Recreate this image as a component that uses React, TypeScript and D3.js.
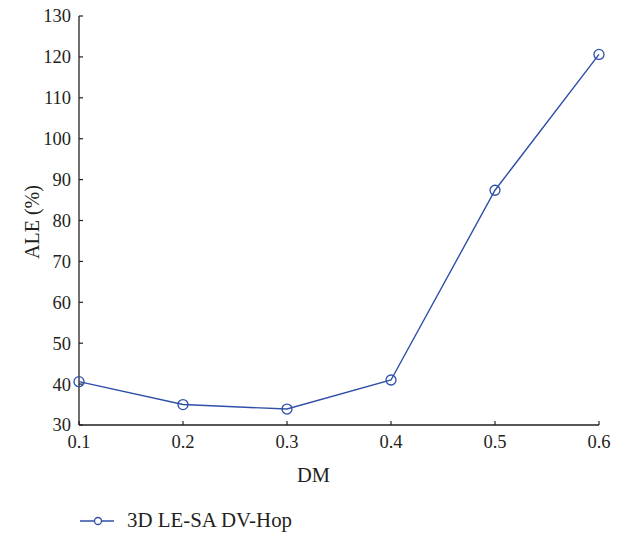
import React from "react";
import * as d3 from "d3";

const xValues = [0.1, 0.2, 0.3, 0.4, 0.5, 0.6];
const aleValues = [40.6, 35.0, 33.9, 41.0, 87.4, 120.6];
const xTicks = [0.1, 0.2, 0.3, 0.4, 0.5, 0.6];
const yTicks = [30, 40, 50, 60, 70, 80, 90, 100, 110, 120, 130];
const seriesName = "3D LE-SA DV-Hop";

const W = 620;
const H = 534;
const left = 79;
const right = 599;
const top = 16;
const bottom = 425;
const blue = "#2f4fa8";
const ink = "#231f20";
const font = "'Liberation Serif', 'Times New Roman', serif";

export default function App() {
  const x = d3.scaleLinear().domain([0.1, 0.6]).range([left, right]);
  const y = d3.scaleLinear().domain([30, 130]).range([bottom, top]);
  const line = d3
    .line<number>()
    .x((_, i) => x(xValues[i]))
    .y((d) => y(d));
  const pts = aleValues.map((v, i) => ({ x: xValues[i], y: v }));

  return (
    <svg
      width={W}
      height={H}
      style={{ position: "absolute", left: 0, top: 0, background: "#fff" }}
      fontFamily={font}
    >
      {/* axes */}
      <line x1={left} x2={left} y1={top} y2={bottom} stroke={ink} strokeWidth={1.3} />
      <line x1={left} x2={right} y1={bottom} y2={bottom} stroke={ink} strokeWidth={1.3} />
      {yTicks.map((t) => (
        <g key={"y" + t}>
          <line x1={left} x2={left + 4} y1={y(t)} y2={y(t)} stroke={ink} strokeWidth={1.2} />
          <text
            x={left - 8}
            y={y(t)}
            dy="0.35em"
            textAnchor="end"
            fontSize={18.5}
            fill={ink}
          >
            {t}
          </text>
        </g>
      ))}
      {xTicks.map((t) => (
        <g key={"x" + t}>
          <line x1={x(t)} x2={x(t)} y1={bottom} y2={bottom - 4} stroke={ink} strokeWidth={1.2} />
          <text x={x(t)} y={448} textAnchor="middle" fontSize={18.5} fill={ink}>
            {t.toFixed(1)}
          </text>
        </g>
      ))}
      <text
        x={297}
        y={482}
        fontSize={20.5}
        fill={ink}
        textLength={33}
        lengthAdjust="spacingAndGlyphs"
      >
        DM
      </text>
      <text
        transform={`translate(39, 222) rotate(-90)`}
        textAnchor="middle"
        fontSize={20}
        fill={ink}
      >
        ALE (%)
      </text>

      {/* series */}
      <path d={line(aleValues) || ""} fill="none" stroke={blue} strokeWidth={1.4} />
      {pts.map((p, i) => (
        <circle
          key={i}
          cx={x(p.x)}
          cy={y(p.y)}
          r={5}
          fill="none"
          stroke={blue}
          strokeWidth={1.3}
        />
      ))}

      {/* legend */}
      <line x1={80} x2={114} y1={521} y2={521} stroke={blue} strokeWidth={1.4} />
      <circle cx={98} cy={521} r={3.5} fill="#fff" stroke={blue} strokeWidth={1.3} />
      <text
        x={127}
        y={527}
        fontSize={20}
        fill={ink}
        textLength={165}
        lengthAdjust="spacingAndGlyphs"
      >
        {seriesName}
      </text>
    </svg>
  );
}
